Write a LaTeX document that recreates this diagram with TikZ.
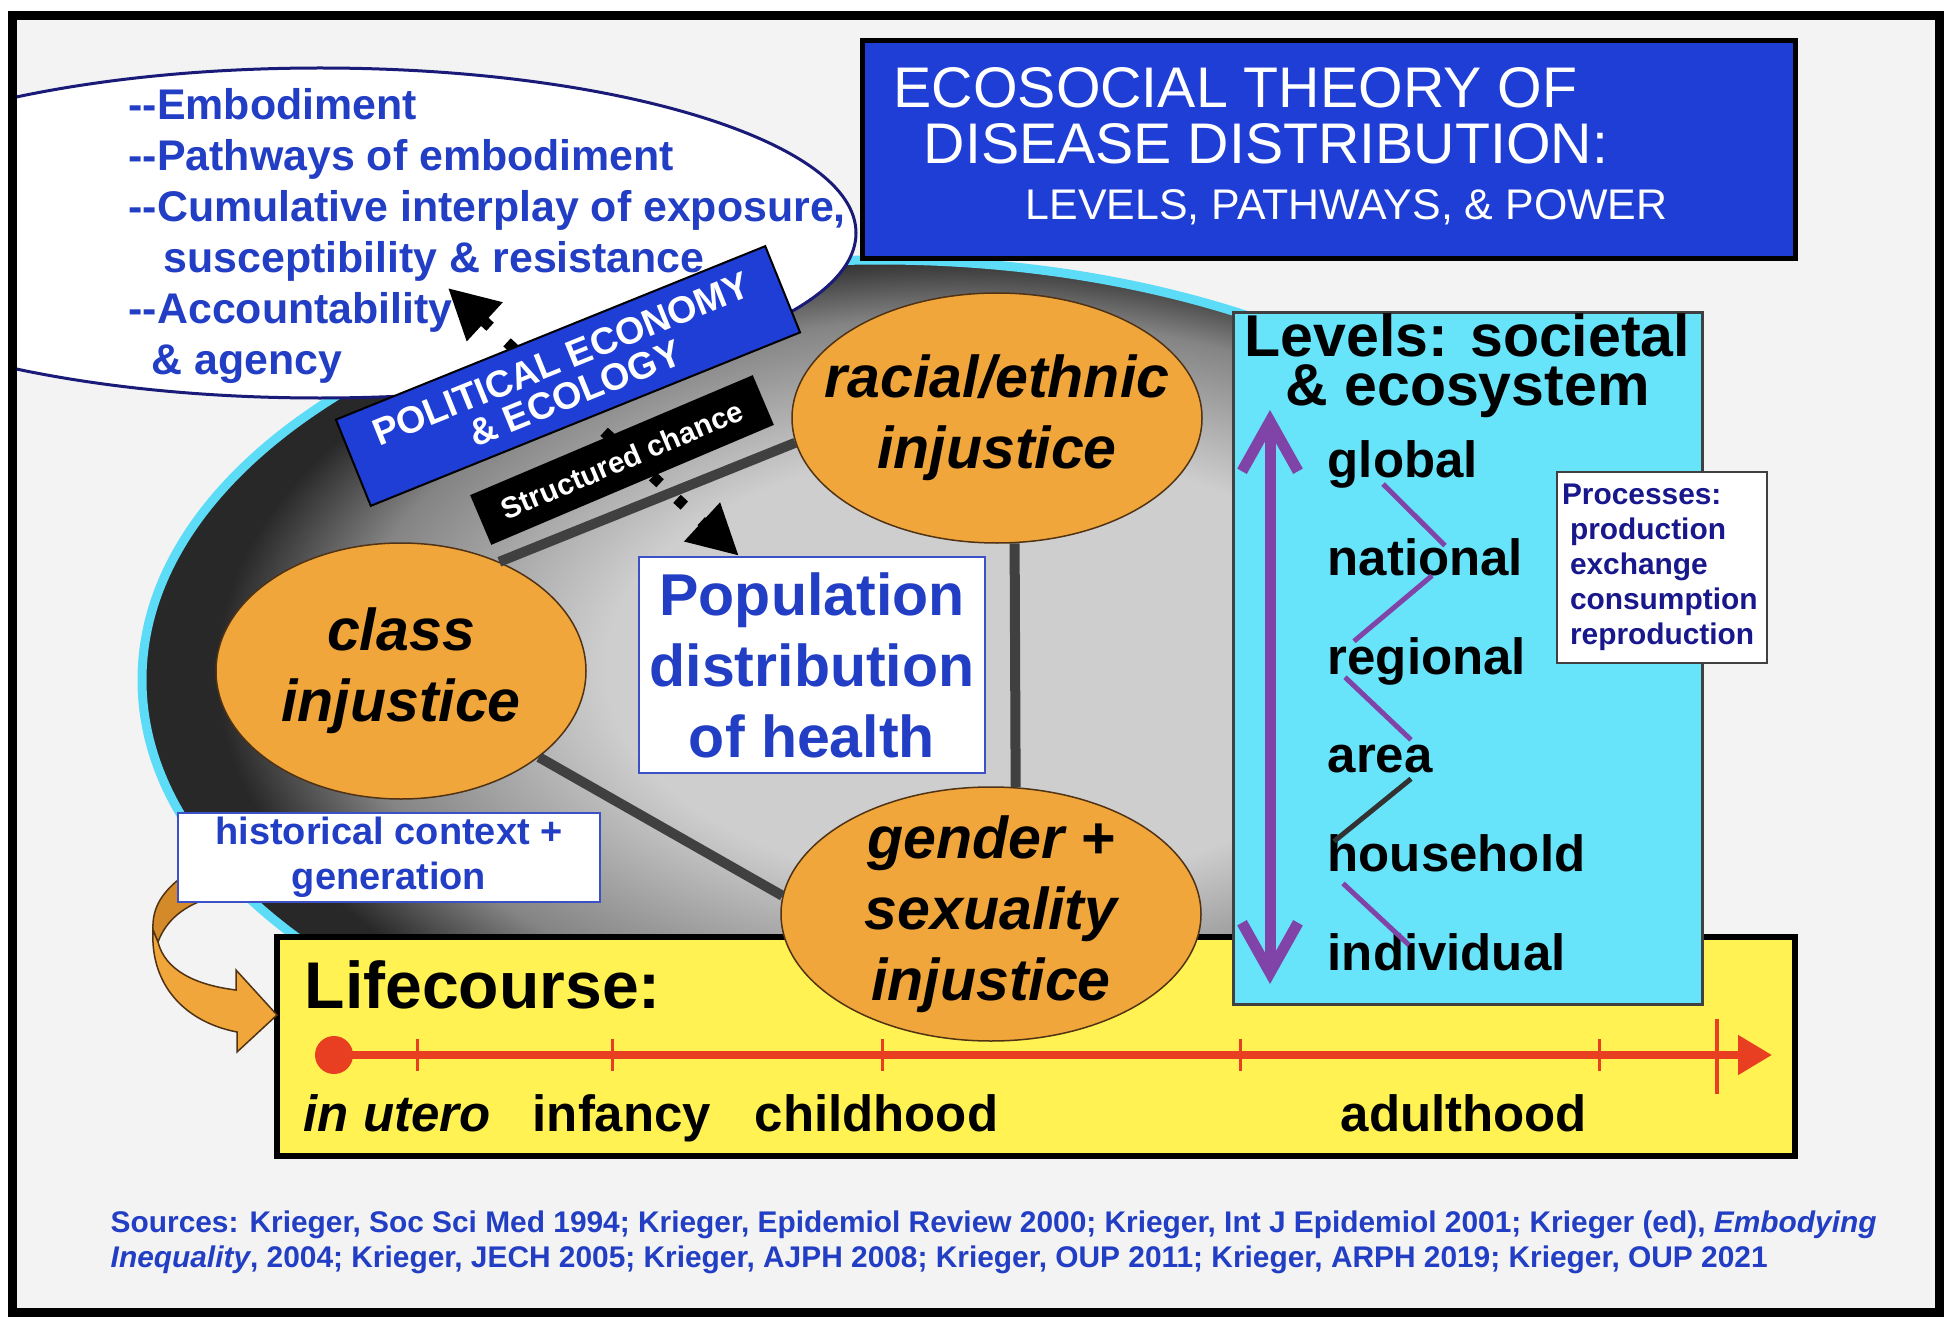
\documentclass[tikz,border=0pt]{standalone}
\usepackage{fontspec}
\setmainfont{Liberation Sans}
\usepackage{tikz}
\usetikzlibrary{arrows.meta, shapes.geometric, positioning, calc}
\definecolor{bgGray}{RGB}{243,243,243}
\definecolor{titleBlue}{RGB}{30,62,214}
\definecolor{textBlue}{RGB}{34,62,196}
\definecolor{navyText}{RGB}{24,24,140}
\definecolor{navyEdge}{RGB}{26,26,120}
\definecolor{boxEdge}{RGB}{60,80,200}
\definecolor{injOrange}{RGB}{240,166,58}
\definecolor{injBack}{RGB}{212,138,40}
\definecolor{injEdge}{RGB}{80,50,20}
\definecolor{lifeYellow}{RGB}{255,242,82}
\definecolor{levelCyan}{RGB}{104,228,250}
\definecolor{rimCyan}{RGB}{92,220,246}
\definecolor{levelPurple}{RGB}{128,68,168}
\definecolor{zigDark}{RGB}{50,50,50}
\definecolor{lineRed}{RGB}{232,62,34}
\definecolor{tieGray}{RGB}{64,64,64}
\definecolor{bowlIn}{RGB}{206,206,206}
\definecolor{bowlMid}{RGB}{132,132,132}
\definecolor{bowlOut}{RGB}{40,40,40}
\pgfdeclareradialshading{bowl}{\pgfpoint{5bp}{1bp}}{color(0bp)=(bowlIn); color(13bp)=(bowlIn); color(21bp)=(bowlMid); color(25bp)=(bowlOut); color(50bp)=(bowlOut)}

\begin{document}
\begin{tikzpicture}[
    injbox/.style={ellipse, draw=injEdge, line width=0.15mm, fill=injOrange, inner sep=0pt},
    injtxt/.style={font=\fontsize{16.8}{20.2}\selectfont\bfseries\itshape, align=center, inner sep=0pt},
    tie/.style={draw=tieGray, line width=1mm},
    chance/.style={line width=1.1mm, dash pattern=on 1mm off 2.3mm, >={Triangle[length=5mm,width=5mm]}, <->},
    banner/.style={draw=black, line width=0.2mm, fill=titleBlue, text=white, minimum width=4.63cm, minimum height=0.93cm, inner sep=0pt, align=center, font=\fontsize{10.7}{10.4}\selectfont\bfseries},
    chancebox/.style={fill=black, text=white, minimum width=3.07cm, minimum height=0.54cm, inner sep=0pt, font=\fontsize{8.4}{10}\selectfont\bfseries},
    whitebox/.style={fill=white, draw=boxEdge, line width=0.25mm, align=center, inner sep=0pt},
    lvl/.style={font=\fontsize{14.5}{17}\selectfont\bfseries, inner sep=0pt, anchor=base west},
    zig/.style={draw=levelPurple, line width=0.5mm},
    tick/.style={draw=lineRed, line width=0.3mm}
  ]
    \useasboundingbox (0,0) rectangle (19.54,-13.28);
    \fill[white] (0,0) rectangle (19.54,-13.28);
    \fill[bgGray] (0.125,-0.16) rectangle (19.39,-13.12);

    % shaded field behind the triangle
    \shadedraw[shading=bowl, draw=rimCyan, line width=0.9mm] (8.80,-6.80) ellipse [x radius=7.38, y radius=4.20];

    % pathways ellipse (runs past the frame)
    \begin{scope}
      \clip (0.125,-0.16) rectangle (19.39,-13.12);
      \node[ellipse, fill=white, draw=navyEdge, line width=0.3mm, minimum width=10.72cm, minimum height=3.30cm] (pathways) at (3.20,-2.33) {};
    \end{scope}
    \node[font=\fontsize{12.2}{14.5}\selectfont\bfseries, text=textBlue, align=left, inner sep=0pt, anchor=north west] (pathlist) at (1.28,-0.88)
      {-{}-Embodiment\\
       -{}-Pathways of embodiment\\
       -{}-Cumulative interplay of exposure,\\
       \hspace*{0.35cm}susceptibility \& resistance\\
       -{}-Accountability\\
       \hspace*{0.23cm}\& agency};

    % Lifecourse and levels boxes
    \node[draw=black, line width=0.6mm, fill=lifeYellow, minimum width=15.18cm, minimum height=2.19cm] (life) at (10.36,-10.465) {};
    \node[draw=tieGray, line width=0.3mm, fill=levelCyan, minimum width=4.69cm, minimum height=6.92cm] (levels) at (14.675,-6.58) {};

    % injustice ellipses
    \node[injbox, minimum width=4.10cm, minimum height=2.50cm] (racial) at (9.97,-4.18) {};
    \node[injtxt] (racialtxt) at (racial) {racial/ethnic\\injustice};
    \node[injbox, minimum width=3.70cm, minimum height=2.56cm] (class) at (4.01,-6.71) {};
    \node[injtxt] (classtxt) at (class) {class\\injustice};
    \node[injbox, minimum width=4.20cm, minimum height=2.54cm] (gender) at (9.91,-9.14) {};
    \node[injtxt] (gendertxt) at (gender) {gender +\\sexuality\\injustice};

    \draw[tie] (class.48) -- (racial.187);
    \draw[tie] (racial.278) -- (gender.79);
    \draw[tie] (class.328) -- (gender.175);

    % population distribution
    \node[whitebox, minimum width=3.46cm, minimum height=2.16cm, text=textBlue, font=\fontsize{16.8}{20.2}\selectfont\bfseries] (pop) at (8.12,-6.65) {Population\\distribution\\of health};

    % structured chance, pathways of embodiment
    \coordinate (acc) at (4.48,-2.88);
    \draw[chance] (acc) -- ($(pop.north west)!0.29!(pop.north east)$);

    \node[banner, rotate=22] (pe) at (5.68,-3.76) {POLITICAL ECONOMY\\\& ECOLOGY};
    \node[chancebox, rotate=23] (chance) at (6.22,-4.60) {Structured chance};

    % title
    \node[draw=black, line width=0.5mm, fill=titleBlue, minimum width=9.33cm, minimum height=2.18cm] (title) at (13.285,-1.50) {};
    \node[text=white, font=\fontsize{16.3}{18}\selectfont, inner sep=0pt, anchor=base west] (title1) at (8.93,-1.08) {ECOSOCIAL THEORY OF};
    \node[text=white, font=\fontsize{16.3}{18}\selectfont, inner sep=0pt, anchor=base west] (title2) at (9.23,-1.64) {DISEASE DISTRIBUTION:};
    \node[text=white, font=\fontsize{12.2}{14}\selectfont, inner sep=0pt, anchor=base west] (title3) at (10.25,-2.20) {LEVELS, PATHWAYS, \& POWER};

    % historical context
    \fill[injBack, draw=injEdge, line width=0.15mm] (1.78,-8.80) .. controls (1.60,-8.95) and (1.52,-9.10) .. (1.53,-9.30)
      -- (1.58,-9.42) .. controls (1.66,-9.20) and (1.85,-9.05) .. (2.10,-8.98) -- cycle;
    \filldraw[fill=injOrange, draw=injEdge, line width=0.15mm] (1.53,-9.30) .. controls (1.50,-9.85) and (1.85,-10.22) .. (2.37,-10.32)
      -- (2.37,-10.52) -- (2.77,-10.15) -- (2.36,-9.70) -- (2.36,-9.90)
      .. controls (1.95,-9.85) and (1.65,-9.70) .. (1.58,-9.42) -- cycle;
    \node[whitebox, minimum width=4.22cm, minimum height=0.89cm, text=textBlue, font=\fontsize{10.8}{12.8}\selectfont\bfseries] (hist) at (3.89,-8.575) {historical context +\\generation};

    % Levels
    \node[font=\fontsize{16.8}{14}\selectfont\bfseries, align=center, inner sep=0pt] (levelstxt) at (14.675,-3.66) {Levels: societal\\\& ecosystem};
    \coordinate (lvtop) at (12.70,-4.10);
    \coordinate (lvbot) at (12.70,-9.84);
    \draw[levelPurple, line width=1.1mm, >={Straight Barb[length=5mm,width=5.6mm]}, <->] (lvtop) -- (lvbot);
    \foreach \w [count=\i] in {global,national,regional,area,household,individual}
      \node[lvl] (lv\i) at (13.27,{-4.77-0.986*(\i-1)}) {\w};
    \draw[zig] ($(lv1.base west)+(0.56,-0.07)$) -- ($(lv2.base west)+(1.18,0.30)$);
    \draw[zig] ($(lv2.base west)+(1.05,0)$) -- ($(lv3.base west)+(0.27,0.33)$);
    \draw[zig] ($(lv3.base west)+(0.18,-0.03)$) -- ($(lv4.base west)+(0.84,0.33)$);
    \draw[zig, draw=zigDark] ($(lv4.base west)+(0.84,-0.06)$) -- ($(lv5.base west)+(0.07,0.30)$);
    \draw[zig] ($(lv5.base west)+(0.16,-0.12)$) -- ($(lv6.base west)+(0.82,0.25)$);

    \node[fill=white, draw=tieGray, line width=0.2mm, text=navyText, text width=2.0cm, align=left, inner xsep=0.05cm, minimum height=1.84cm,
      font=\fontsize{8.5}{10}\selectfont\bfseries, anchor=north west] (proc) at (15.56,-4.71)
      {Processes:\\
       \hspace*{0.08cm}production\\
       \hspace*{0.08cm}exchange\\
       \hspace*{0.08cm}consumption\\
       \hspace*{0.08cm}reproduction};

    % Lifecourse
    \node[font=\fontsize{18.8}{22}\selectfont\bfseries, inner sep=0pt, anchor=base west] (lifetxt) at (3.04,-10.08) {Lifecourse:};
    \coordinate (born) at (3.34,-10.55);
    \coordinate (later) at (17.72,-10.55);
    \draw[lineRed, line width=0.8mm, -{Triangle[length=3.4mm,width=3.8mm]}] (born) -- (later);
    \fill[lineRed] (born) circle (0.19);
    \foreach \x in {4.17,6.12,8.82,12.40,15.99}
      \draw[tick] (\x,-10.39) -- (\x,-10.71);
    \draw[tick, line width=0.45mm] (17.17,-10.19) -- (17.17,-10.94);
    \node[lvl] (utero) at (3.03,-11.31) {\itshape in utero};
    \node[lvl] (infancy) at (5.32,-11.31) {infancy};
    \node[lvl] (childhood) at (7.54,-11.31) {childhood};
    \node[lvl] (adulthood) at (13.40,-11.31) {adulthood};

    % sources
    \node[font=\fontsize{8.5}{10}\selectfont\bfseries, text=textBlue, align=left, inner sep=0pt, anchor=north west] (src) at (1.10,-12.10)
      {Sources: Krieger, Soc Sci Med 1994; Krieger, Epidemiol Review 2000; Krieger, Int J Epidemiol 2001; Krieger (ed), \textit{Embodying}\\
       \textit{Inequality}, 2004; Krieger, JECH 2005; Krieger, AJPH 2008; Krieger, OUP 2011; Krieger, ARPH 2019; Krieger, OUP 2021};

    % frame
    \draw[line width=0.9mm] (0.125,-0.16) rectangle (19.39,-13.12);
\end{tikzpicture}
\end{document}
